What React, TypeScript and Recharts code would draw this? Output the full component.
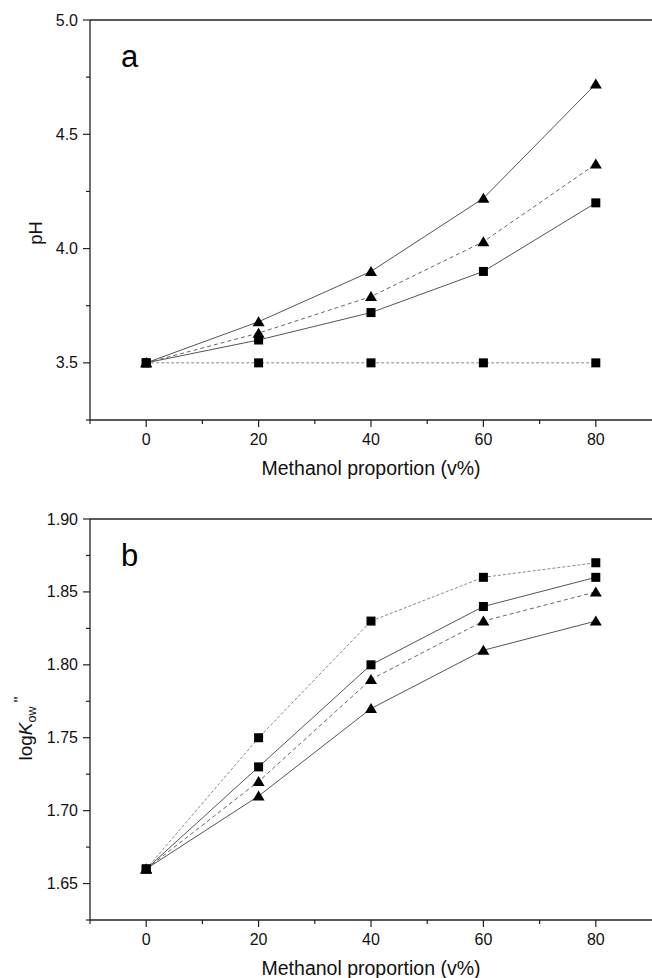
import React from "react";
import { LineChart, Line, XAxis, YAxis, ReferenceLine } from "recharts";

// methanol proportion (v%)
const methanol = [0, 20, 40, 60, 80];

// panel a: pH
const phTriSolid = [3.5, 3.68, 3.9, 4.22, 4.72];
const phTriDash = [3.5, 3.63, 3.79, 4.03, 4.37];
const phSqSolid = [3.5, 3.6, 3.72, 3.9, 4.2];
const phSqDot = [3.5, 3.5, 3.5, 3.5, 3.5];

// panel b: logKow''
const kSqDot = [1.66, 1.75, 1.83, 1.86, 1.87];
const kSqSolid = [1.66, 1.73, 1.8, 1.84, 1.86];
const kTriDash = [1.66, 1.72, 1.79, 1.83, 1.85];
const kTriSolid = [1.66, 1.71, 1.77, 1.81, 1.83];

const xTicks = [-10, 0, 10, 20, 30, 40, 50, 60, 70, 80];
const xMajor = [0, 20, 40, 60, 80];
const phTicks = [3.25, 3.5, 3.75, 4.0, 4.25, 4.5, 4.75, 5.0];
const phMajor = [3.5, 4.0, 4.5, 5.0];
const kTicks = [1.625, 1.65, 1.675, 1.7, 1.725, 1.75, 1.775, 1.8, 1.825, 1.85, 1.875, 1.9];
const kMajor = [1.65, 1.7, 1.75, 1.8, 1.85, 1.9];

const FONT = "'Liberation Sans', Arial, sans-serif";
const AXIS = "#222";

const dataA = methanol.map((x, i) => ({
  x,
  triSolid: phTriSolid[i],
  triDash: phTriDash[i],
  sqSolid: phSqSolid[i],
  sqDot: phSqDot[i],
}));

const dataB = methanol.map((x, i) => ({
  x,
  sqDot: kSqDot[i],
  sqSolid: kSqSolid[i],
  triDash: kTriDash[i],
  triSolid: kTriSolid[i],
}));

const isMajor = (v: number, majors: number[]) =>
  majors.some((m) => Math.abs(m - v) < 1e-6);

function Square(props: any) {
  const { cx, cy, index } = props;
  if (cx == null || cy == null) return <g key={`s-${index}`} />;
  return <rect key={`s-${index}`} x={cx - 4.5} y={cy - 4.5} width={9} height={9} fill="#000" />;
}

function Triangle(props: any) {
  const { cx, cy, index } = props;
  if (cx == null || cy == null) return <g key={`t-${index}`} />;
  const pts = `${cx - 6},${cy + 4.5} ${cx + 6},${cy + 4.5} ${cx},${cy - 5.5}`;
  return <polygon key={`t-${index}`} points={pts} fill="#000" />;
}

function XTick(props: any) {
  const { x, y, payload } = props;
  const major = isMajor(payload.value, xMajor);
  return (
    <g>
      <line x1={x} x2={x} y1={y} y2={y + (major ? 7 : 4)} stroke={AXIS} strokeWidth={1.2} />
      {major && (
        <text x={x} y={y + 25} textAnchor="middle" fontSize={16} fontFamily={FONT} fill="#111">
          {payload.value}
        </text>
      )}
    </g>
  );
}

function makeYTick(majors: number[], digits: number) {
  return function YTick(props: any) {
    const { x, y, payload } = props;
    const major = isMajor(payload.value, majors);
    return (
      <g>
        <line x1={x - (major ? 7 : 4)} x2={x} y1={y} y2={y} stroke={AXIS} strokeWidth={1.2} />
        {major && (
          <text x={x - 12} y={y + 5.5} textAnchor="end" fontSize={16} fontFamily={FONT} fill="#111">
            {payload.value.toFixed(digits)}
          </text>
        )}
      </g>
    );
  };
}

const XTitle = (props: any) => {
  const vb = props.viewBox;
  return (
    <text x={vb.x + vb.width / 2} y={vb.y + 55} textAnchor="middle" fontSize={19.5} fontFamily={FONT} fill="#111">
      Methanol proportion (v%)
    </text>
  );
};

const PhTitle = (props: any) => {
  const vb = props.viewBox;
  const cx = 35;
  const cy = vb.y + vb.height / 2 + 13;
  return (
    <text x={cx} y={cy} transform={`rotate(-90 ${cx} ${cy})`} textAnchor="middle" dominantBaseline="central" fontSize={18.5} fontFamily={FONT} fill="#111">
      pH
    </text>
  );
};

const KTitle = (props: any) => {
  const vb = props.viewBox;
  const cx = 32;
  const cy = vb.y + vb.height / 2 + 9;
  return (
    <text x={cx} y={cy} transform={`rotate(-90 ${cx} ${cy})`} textAnchor="middle" fontSize={19} fontFamily={FONT} fill="#111">
      log<tspan fontStyle="italic">K</tspan>
      <tspan fontSize={12.5} dy={4}>ow</tspan>
      <tspan fontSize={17} dy={-10} dx={4}>"</tspan>
    </text>
  );
};

const panelLabel = (txt: string) => (props: any) => {
  const vb = props.viewBox;
  return (
    <text x={vb.x + 31} y={vb.y + 47} fontSize={31} fontFamily={FONT} fill="#000">
      {txt}
    </text>
  );
};

const solid = { stroke: "#555", strokeWidth: 1 };
const dashed = { stroke: "#666", strokeWidth: 1, strokeDasharray: "4 3" };
const dotted = { stroke: "#888", strokeWidth: 1, strokeDasharray: "3 2" };

export default function App() {
  return (
    <div style={{ position: "absolute", left: 0, top: 0, width: 652, height: 978, background: "#fff" }}>
      <LineChart width={652} height={480} data={dataA} margin={{ top: 20, right: 0, bottom: 0, left: 30 }}>
        <XAxis
          type="number"
          dataKey="x"
          domain={[-10, 90]}
          ticks={xTicks}
          interval={0}
          allowDataOverflow
          height={60}
          tickSize={0}
          tickMargin={0}
          tickLine={false}
          tick={<XTick />}
          axisLine={{ stroke: AXIS, strokeWidth: 1.3 }}
          label={<XTitle />}
        />
        <YAxis
          type="number"
          domain={[3.25, 5.0]}
          ticks={phTicks}
          interval={0}
          allowDataOverflow
          width={60}
          tickSize={0}
          tickMargin={0}
          tickLine={false}
          tick={makeYTick(phMajor, 1)}
          axisLine={{ stroke: AXIS, strokeWidth: 1.3 }}
          label={<PhTitle />}
        />
        <ReferenceLine y={5.0} stroke={AXIS} strokeWidth={1.3} label={panelLabel("a")} />
        <Line dataKey="sqDot" {...dotted} dot={Square} isAnimationActive={false} />
        <Line dataKey="sqSolid" {...solid} dot={Square} isAnimationActive={false} />
        <Line dataKey="triDash" {...dashed} dot={Triangle} isAnimationActive={false} />
        <Line dataKey="triSolid" {...solid} dot={Triangle} isAnimationActive={false} />
      </LineChart>
      <LineChart width={652} height={498} data={dataB} margin={{ top: 39, right: 0, bottom: 0, left: 30 }}>
        <XAxis
          type="number"
          dataKey="x"
          domain={[-10, 90]}
          ticks={xTicks}
          interval={0}
          allowDataOverflow
          height={58}
          tickSize={0}
          tickMargin={0}
          tickLine={false}
          tick={<XTick />}
          axisLine={{ stroke: AXIS, strokeWidth: 1.3 }}
          label={<XTitle />}
        />
        <YAxis
          type="number"
          domain={[1.625, 1.9]}
          ticks={kTicks}
          interval={0}
          allowDataOverflow
          width={60}
          tickSize={0}
          tickMargin={0}
          tickLine={false}
          tick={makeYTick(kMajor, 2)}
          axisLine={{ stroke: AXIS, strokeWidth: 1.3 }}
          label={<KTitle />}
        />
        <ReferenceLine y={1.9} stroke={AXIS} strokeWidth={1.3} label={panelLabel("b")} />
        <Line dataKey="sqDot" {...dotted} dot={Square} isAnimationActive={false} />
        <Line dataKey="sqSolid" {...solid} dot={Square} isAnimationActive={false} />
        <Line dataKey="triDash" {...dashed} dot={Triangle} isAnimationActive={false} />
        <Line dataKey="triSolid" {...solid} dot={Triangle} isAnimationActive={false} />
      </LineChart>
    </div>
  );
}
